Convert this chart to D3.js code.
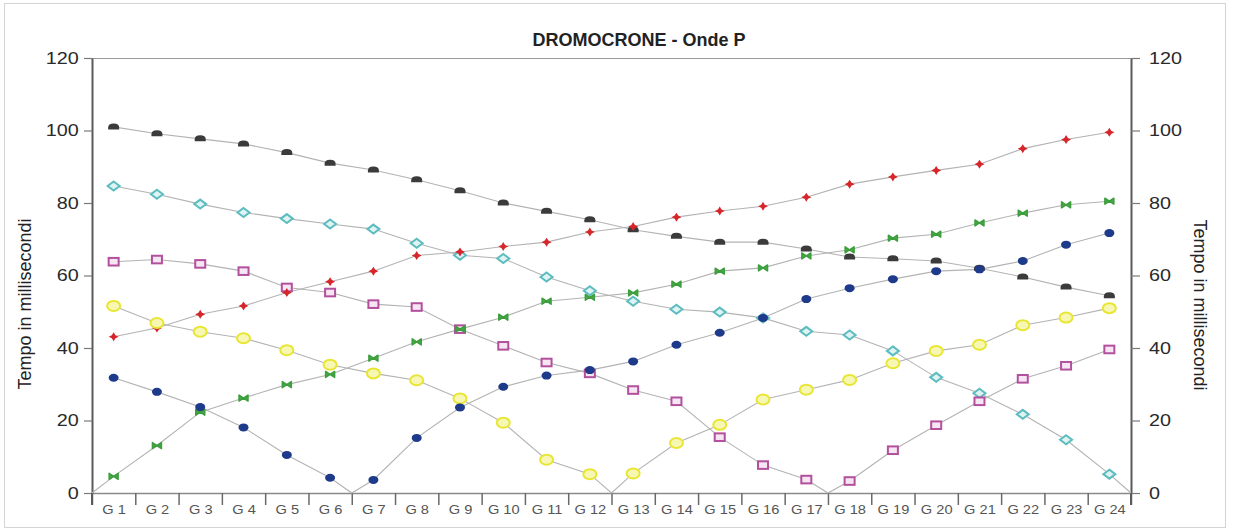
<!DOCTYPE html>
<html>
<head>
<meta charset="utf-8">
<script src="https://cdn.jsdelivr.net/npm/d3@7"></script>
<style>
  body { margin: 0; background: #fff; }
  svg { display: block; font-family: "Liberation Sans", Arial, sans-serif; }
</style>
</head>
<body>
<svg id="chart" width="1236" height="530"></svg>
<script>
const categories = d3.range(1, 25).map(i => "G " + i);
const yTicks = [0, 20, 40, 60, 80, 100, 120];

// series values (ms) per geophone, plus shot-point position (category boundary index) where time = 0
const black   = [101.0, 99.1, 97.7, 96.3, 93.9, 91.0, 89.1, 86.4, 83.4, 80.0, 77.7, 75.4, 72.6, 70.8, 69.2, 69.2, 67.3, 65.1, 64.6, 64.0, 62.0, 59.6, 56.8, 54.4];
const cyan    = [84.7, 82.4, 79.7, 77.4, 75.7, 74.2, 72.8, 68.9, 65.6, 64.7, 59.6, 55.8, 52.9, 50.7, 49.9, 48.3, 44.6, 43.6, 39.2, 31.9, 27.5, 21.7, 14.7, 5.2];
const magenta = [63.8, 64.4, 63.2, 61.2, 56.7, 55.3, 52.1, 51.3, 45.2, 40.6, 36.0, 33.0, 28.4, 25.3, 15.4, 7.7, 3.7, 3.3, 11.8, 18.7, 25.3, 31.5, 35.1, 39.6];
const yellow  = [51.6, 46.9, 44.5, 42.7, 39.4, 35.4, 33.0, 31.1, 26.1, 19.4, 9.2, 5.2, 5.4, 13.8, 18.8, 25.8, 28.5, 31.2, 35.8, 39.2, 40.9, 46.3, 48.4, 51.0];
const blue    = [31.8, 27.9, 23.7, 18.1, 10.5, 4.2, 3.6, 15.2, 23.6, 29.3, 32.4, 33.9, 36.3, 40.9, 44.2, 48.3, 53.5, 56.5, 59.0, 61.2, 61.7, 64.0, 68.5, 71.7];
const green   = [4.6, 13.1, 22.3, 26.2, 29.9, 32.7, 37.2, 41.7, 45.2, 48.5, 52.9, 54.0, 55.2, 57.6, 61.2, 62.1, 65.4, 67.1, 70.3, 71.4, 74.5, 77.2, 79.5, 80.5];
const red     = [43.1, 45.5, 49.3, 51.6, 55.3, 58.3, 61.2, 65.5, 66.5, 68.0, 69.2, 72.0, 73.5, 76.1, 77.8, 79.1, 81.6, 85.2, 87.2, 89.0, 90.7, 95.0, 97.5, 99.5];

const series = [
  { name: "black",   values: black,   shot: null, marker: "dome" },
  { name: "cyan",    values: cyan,    shot: 24,   marker: "diamond" },
  { name: "magenta", values: magenta, shot: 17,   marker: "square" },
  { name: "red",     values: red,     shot: null, marker: "star" },
  { name: "green",   values: green,   shot: 0,    marker: "bowtie" },
  { name: "yellow",  values: yellow,  shot: 12,   marker: "ring" },
  { name: "blue",    values: blue,    shot: 6,    marker: "dot" }
];

const svg = d3.select("#chart");
const pLeft = 92, pRight = 1131, pTop = 58, pBottom = 493;

// outer frame
svg.append("rect").attr("x", 4.5).attr("y", 3.5).attr("width", 1221).attr("height", 524)
  .attr("fill", "#fff").attr("stroke", "#d4d4d4").attr("stroke-width", 1);

const x = d3.scaleLinear().domain([0, categories.length]).range([pLeft, pRight]);
const y = d3.scaleLinear().domain([0, 120]).range([pBottom, pTop]);

// top frame line
svg.append("line").attr("x1", pLeft).attr("x2", pRight).attr("y1", y(120) + 0.5).attr("y2", y(120) + 0.5)
  .attr("stroke", "#9a9a9a").attr("stroke-width", 1.2);

// bottom axis: boundary ticks
const gxTicks = svg.append("g").attr("transform", `translate(0,${pBottom})`)
  .call(d3.axisBottom(x).tickValues(d3.range(0, categories.length + 1)).tickSize(12).tickSizeOuter(0).tickFormat(""));
gxTicks.select(".domain").attr("stroke", "#8a8a8a").attr("stroke-width", 1.5);
gxTicks.selectAll(".tick line").attr("stroke", "#6a6a6a").attr("stroke-width", 1.5);

// bottom axis: category labels
const gxLabels = svg.append("g").attr("transform", `translate(0,${pBottom})`)
  .call(d3.axisBottom(x).tickValues(d3.range(categories.length).map(i => i + 0.5))
    .tickSize(0).tickPadding(12.5).tickFormat(d => categories[Math.floor(d)]));
gxLabels.select(".domain").remove();
gxLabels.selectAll("text").attr("font-size", 12.2).attr("fill", "#555")
  .attr("font-family", "Liberation Sans, Arial, sans-serif")
  .attr("transform", "scale(1.2,1)");

// left axis
const gyL = svg.append("g").attr("transform", `translate(${pLeft},0)`)
  .call(d3.axisLeft(y).tickValues(yTicks).tickSize(8).tickSizeOuter(0).tickPadding(3));
gyL.select(".domain").attr("stroke", "#5a5a5a").attr("stroke-width", 2);
gyL.selectAll(".tick line").attr("stroke", "#7a7a7a").attr("stroke-width", 1.2);
gyL.selectAll("text").attr("font-size", 16.5).attr("fill", "#2a2a2a")
  .attr("font-family", "Liberation Sans, Arial, sans-serif")
  .attr("transform", "scale(1.2,1)");

// right axis
const gyR = svg.append("g").attr("transform", `translate(${pRight},0)`)
  .call(d3.axisRight(y).tickValues(yTicks).tickSize(9).tickSizeOuter(0).tickPadding(6));
gyR.select(".domain").attr("stroke", "#5a5a5a").attr("stroke-width", 2);
gyR.selectAll(".tick line").attr("stroke", "#7a7a7a").attr("stroke-width", 1.2);
gyR.selectAll("text").attr("font-size", 16.5).attr("fill", "#2a2a2a")
  .attr("font-family", "Liberation Sans, Arial, sans-serif")
  .attr("transform", "scale(1.2,1)");

// extend vertical axes down to boundary tick length
svg.append("line").attr("x1", pLeft).attr("x2", pLeft).attr("y1", pBottom).attr("y2", pBottom + 12)
  .attr("stroke", "#5a5a5a").attr("stroke-width", 2);
svg.append("line").attr("x1", pRight).attr("x2", pRight).attr("y1", pBottom).attr("y2", pBottom + 12)
  .attr("stroke", "#5a5a5a").attr("stroke-width", 2);

// title
svg.append("text").attr("x", 639).attr("y", 46).attr("text-anchor", "middle")
  .attr("font-size", 18).attr("font-weight", "bold").attr("fill", "#222")
  .text("DROMOCRONE - Onde P");

// axis titles
svg.append("text").attr("transform", `translate(31,304) rotate(-90)`).attr("text-anchor", "middle")
  .attr("font-size", 18).attr("fill", "#222").text("Tempo in millisecondi");
svg.append("text").attr("transform", `translate(1194,305) rotate(90)`).attr("text-anchor", "middle")
  .attr("font-size", 18).attr("fill", "#222").text("Tempo in millisecondi");

// lines
const line = d3.line().x(d => x(d.x)).y(d => y(d.y));
function pts(s) {
  const p = s.values.map((v, i) => ({ x: i + 0.5, y: v }));
  if (s.shot !== null) p.push({ x: s.shot, y: 0 });
  p.sort((a, b) => a.x - b.x);
  return p;
}
const gLines = svg.append("g");
series.forEach(s => {
  gLines.append("path").datum(pts(s)).attr("d", line)
    .attr("fill", "none").attr("stroke", "#b3b3b3").attr("stroke-width", 1.1);
});

// markers
const gMarks = svg.append("g");
function drawMarker(g, type) {
  switch (type) {
    case "dome":
      g.append("path").attr("d", "M-5.5,2.5 L-5.5,0.5 Q-5.5,-3.5 0,-3.5 Q5.5,-3.5 5.5,0.5 L5.5,2.5 Z")
        .attr("fill", "#3b3b3b");
      break;
    case "diamond":
      g.append("path").attr("d", "M0,-4.5 L6,0 L0,4.5 L-6,0 Z")
        .attr("fill", "#dff3f3").attr("stroke", "#5cbcbf").attr("stroke-width", 2);
      break;
    case "square":
      g.append("rect").attr("x", -5).attr("y", -3.8).attr("width", 10).attr("height", 7.6)
        .attr("fill", "#f6e6f3").attr("stroke", "#b3509d").attr("stroke-width", 2);
      break;
    case "star":
      g.append("path").attr("d", "M0,-4.5 L1.8,-1.6 L5,0 L1.8,1.6 L0,4.5 L-1.8,1.6 L-5,0 L-1.8,-1.6 Z")
        .attr("fill", "#d6262b");
      break;
    case "bowtie":
      g.append("path").attr("d", "M-4.5,-3 L0,0 L-4.5,3 Z M4.5,-3 L0,0 L4.5,3 Z")
        .attr("fill", "#48a848").attr("stroke", "#3c9e3c").attr("stroke-width", 1.5)
        .attr("stroke-linejoin", "round");
      break;
    case "ring":
      g.append("ellipse").attr("rx", 6.5).attr("ry", 5)
        .attr("fill", "#f7f7b4").attr("stroke", "#e8e632").attr("stroke-width", 2);
      break;
    case "dot":
      g.append("ellipse").attr("rx", 5).attr("ry", 4).attr("fill", "#1e3a8a");
      break;
  }
}
series.forEach(s => {
  s.values.forEach((v, i) => {
    const g = gMarks.append("g").attr("transform", `translate(${x(i + 0.5)},${y(v)})`);
    drawMarker(g, s.marker);
  });
});
</script>
</body>
</html>
